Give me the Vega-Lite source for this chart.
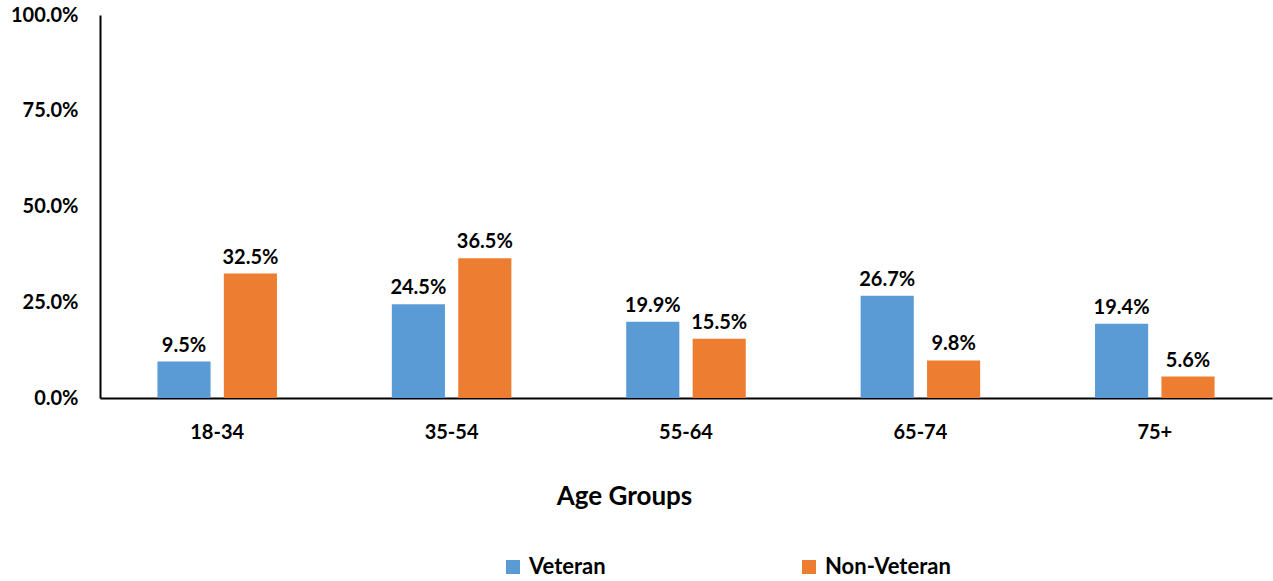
{
  "$schema": "https://vega.github.io/schema/vega-lite/v6.json",
  "width": 1172,
  "height": 383,
  "autosize": {"type": "none"},
  "padding": {"left": 100, "top": 15, "right": 1, "bottom": 183},
  "background": "white",
  "config": {
    "view": {"stroke": null},
    "font": "Lato",
    "text": {"font": "Lato"}
  },
  "data": {
    "values": [
      {"age": "18-34", "group": "Veteran", "pct": 0.095},
      {"age": "18-34", "group": "Non-Veteran", "pct": 0.325},
      {"age": "35-54", "group": "Veteran", "pct": 0.245},
      {"age": "35-54", "group": "Non-Veteran", "pct": 0.365},
      {"age": "55-64", "group": "Veteran", "pct": 0.199},
      {"age": "55-64", "group": "Non-Veteran", "pct": 0.155},
      {"age": "65-74", "group": "Veteran", "pct": 0.267},
      {"age": "65-74", "group": "Non-Veteran", "pct": 0.098},
      {"age": "75+", "group": "Veteran", "pct": 0.194},
      {"age": "75+", "group": "Non-Veteran", "pct": 0.056}
    ]
  },
  "encoding": {
    "x": {
      "field": "age", "type": "nominal", "sort": null,
      "scale": {"paddingInner": 0.49, "paddingOuter": 0.245},
      "axis": {
        "title": "Age Groups", "titleFont": "Lato", "titleFontSize": 26, "titleFontWeight": "bold",
        "titleColor": "#000", "titleX": 524, "titleY": 106, "titleBaseline": "alphabetic", "titleAlign": "center",
        "labelAngle": 0, "labelFont": "Lato", "labelFontSize": 20, "labelFontWeight": "bold", "labelColor": "#000",
        "labelPadding": 24, "ticks": false, "domainColor": "#000", "domainWidth": 2
      }
    },
    "xOffset": {"field": "group", "type": "nominal", "sort": ["Veteran", "Non-Veteran"], "scale": {"paddingInner": 0.2}},
    "y": {
      "field": "pct", "type": "quantitative",
      "scale": {"domain": [0, 1]},
      "axis": {
        "title": null, "values": [0, 0.25, 0.5, 0.75, 1], "format": ".1%", "grid": false, "ticks": false,
        "labelFont": "Lato", "labelFontSize": 20, "labelFontWeight": "bold", "labelColor": "#000",
        "labelPadding": 22, "domainColor": "#000", "domainWidth": 2
      }
    }
  },
  "layer": [
    {
      "mark": {"type": "bar"},
      "encoding": {
        "color": {
          "field": "group", "type": "nominal", "sort": ["Veteran", "Non-Veteran"],
          "scale": {"domain": ["Veteran", "Non-Veteran"], "range": ["#5B9BD5", "#ED7D31"]},
          "legend": {
            "title": null, "orient": "none", "direction": "horizontal", "columns": 2,
            "legendX": 402, "legendY": 541, "symbolType": "square", "symbolSize": 196,
            "symbolStrokeWidth": 0, "labelFont": "Lato", "labelFontSize": 22, "labelFontWeight": "bold",
            "labelColor": "#000", "labelOffset": 5, "columnPadding": 192
          }
        }
      }
    },
    {
      "mark": {"type": "text", "baseline": "alphabetic", "dy": -10, "font": "Lato", "fontSize": 20, "fontWeight": "bold", "color": "#000"},
      "encoding": {
        "text": {"field": "pct", "type": "quantitative", "format": ".1%"}
      }
    }
  ]
}
